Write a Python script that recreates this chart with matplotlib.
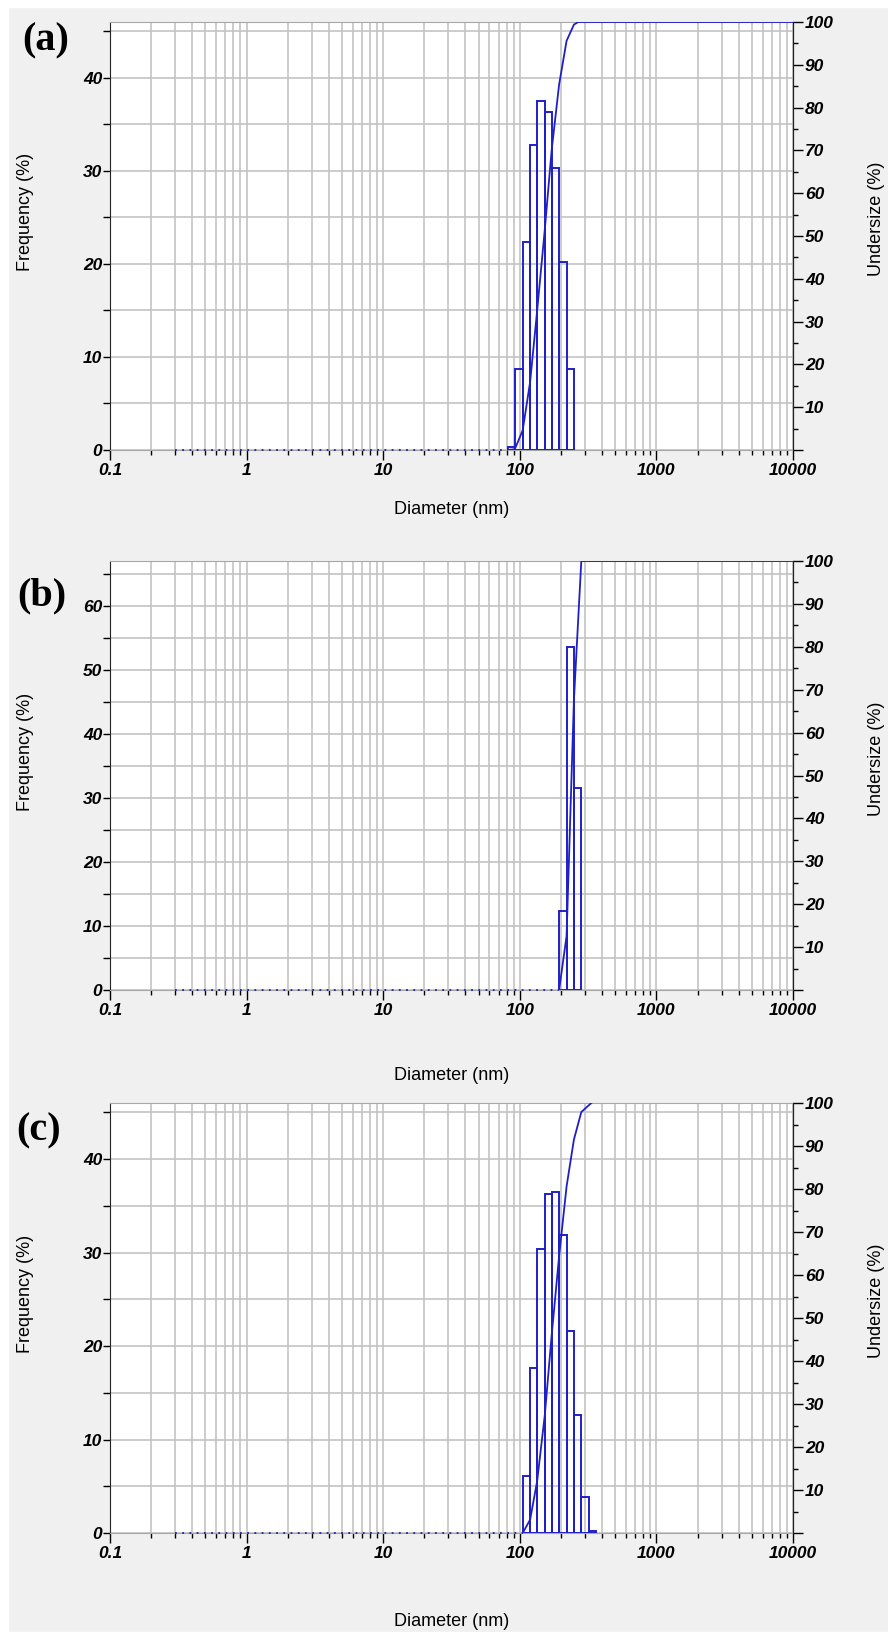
import matplotlib.pyplot as plt
import numpy as np
from matplotlib.ticker import FixedLocator, NullFormatter, FixedFormatter
from matplotlib.patches import Rectangle

# bin edges (nm) and frequencies (%)
edges_a = [82, 92, 105, 119, 134, 152.5, 171, 194, 220, 249]
freq_a = [0.35, 8.7, 22.4, 32.8, 37.5, 36.3, 30.3, 20.2, 8.7]
cum_x_a = [82, 92, 105, 119, 134, 152.5, 171, 194, 220, 249, 268, 10000]
cum_a = [0, 0.2, 4.6, 15.9, 32.6, 51.6, 70.0, 85.4, 95.6, 99.4, 100, 100]

edges_b = [194, 220, 249, 282]
freq_b = [12.3, 53.5, 31.6]
cum_x_b = [194, 220, 249, 282, 10000]
cum_b = [0, 12.6, 67.6, 100, 100]

edges_c = [105, 119, 134, 152.5, 171, 194, 220, 249, 282, 320, 362]
freq_c = [6.1, 17.7, 30.4, 36.3, 36.5, 31.9, 21.6, 12.6, 3.9, 0.2]
cum_x_c = [105, 119, 134, 152.5, 171, 194, 220, 249, 282, 334]
cum_c = [0, 3.1, 12.1, 27.5, 45.9, 64.4, 80.6, 91.5, 97.9, 100]

ymax = [46, 67, 46]
left_ticks = [[0, 10, 20, 30, 40], [0, 10, 20, 30, 40, 50, 60], [0, 10, 20, 30, 40]]
x_ticks = [0.1, 1, 10, 100, 1000, 10000]
x_labels = ['0.1', '1', '10', '100', '1000', '10000']
letters = ['(a)', '(b)', '(c)']

W, H = 888, 1636
blue = '#1f1fc8'
grid_c = '#c3c3c3'
tick_font = dict(family='Liberation Sans', weight='bold', style='italic', size=12.5)

fig = plt.figure(figsize=(W / 100, H / 100), dpi=100, facecolor='#f0f0f0')
# white border of the screenshot
fig.patches.append(Rectangle((0, 0), 8 / W, 1, transform=fig.transFigure, color='white', zorder=-1))
fig.patches.append(Rectangle((0, 1 - 7 / H), 1, 7 / H, transform=fig.transFigure, color='white', zorder=-1))
fig.patches.append(Rectangle((0, 0), 1, 4 / H, transform=fig.transFigure, color='white', zorder=-1))

# pixel boxes: (top, bottom) of each plot area
boxes = [(22, 450), (561, 990), (1103, 1533)]
xlab_y = [509, 1075, 1622]
letter_pos = [(46, 41), (42, 596), (39, 1131)]
ylab_off = [24, 24, 24]
data = [(edges_a, freq_a, cum_x_a, cum_a),
        (edges_b, freq_b, cum_x_b, cum_b),
        (edges_c, freq_c, cum_x_c, cum_c)]

minor_x = [m * 10.0 ** e for e in range(-1, 4) for m in range(2, 10)]

for i, (edges, freq, cx, cy) in enumerate(data):
    top, bot = boxes[i]
    ax = fig.add_axes([110 / W, 1 - bot / H, 683 / W, (bot - top) / H])
    ax.set_facecolor('white')
    ax.set_xscale('log')
    ax.set_xlim(0.1, 10000)
    ax.set_ylim(0, ymax[i])

    ax.xaxis.set_major_locator(FixedLocator(x_ticks))
    ax.xaxis.set_major_formatter(FixedFormatter(x_labels))
    ax.xaxis.set_minor_locator(FixedLocator(minor_x))
    ax.xaxis.set_minor_formatter(NullFormatter())
    ax.yaxis.set_major_locator(FixedLocator(left_ticks[i]))
    ax.yaxis.set_minor_locator(FixedLocator(np.arange(5, ymax[i], 10)))

    ax.grid(which='both', color=grid_c, lw=1.2)
    ax.set_axisbelow(True)

    # dotted zero line below the distribution
    ax.plot([0.3, edges[0]], [0, 0], color='#2020a0', lw=1.3, ls=(0, (1, 3)), clip_on=False, zorder=3)
    widths = np.diff(edges)
    ax.bar(edges[:-1], freq, width=widths, align='edge', fill=False,
           edgecolor=blue, lw=1.4, zorder=4)

    ax.tick_params(axis='x', which='major', direction='out', length=7.5, width=1, pad=2)
    ax.tick_params(axis='x', which='minor', direction='out', length=3.8, width=1)
    ax.tick_params(axis='y', which='both', direction='out', length=5, width=1, pad=0.5)
    for lab in ax.get_xticklabels() + ax.get_yticklabels():
        lab.set_fontproperties(tick_font)
    for s in ['top', 'bottom']:
        ax.spines[s].set_color('#a8a8a8')
    ax.spines['left'].set_color('#222222')

    ax2 = ax.twinx()
    ax2.set_ylim(0, 100)
    ax2.yaxis.set_major_locator(FixedLocator(np.arange(0, 101, 10)))
    ax2.yaxis.set_major_formatter(FixedFormatter([''] + [str(v) for v in range(10, 101, 10)]))
    ax2.yaxis.set_minor_locator(FixedLocator(np.arange(5, 100, 10)))
    ax2.tick_params(axis='y', which='major', direction='out', length=7.5, width=1, pad=1)
    ax2.tick_params(axis='y', which='minor', direction='out', length=3.8, width=1)
    for lab in ax2.get_yticklabels():
        lab.set_fontproperties(tick_font)
    for s in ['top', 'bottom', 'left']:
        ax2.spines[s].set_visible(False)
    ax2.spines['right'].set_color('#222222')
    ax2.plot(cx, cy, color=blue, lw=1.3, zorder=5)

    mid = (top + bot) / 2
    fig.text(452 / W, 1 - xlab_y[i] / H, 'Diameter (nm)', ha='center', va='center',
             family='Liberation Sans', size=13)
    fig.text(25 / W, 1 - (mid - ylab_off[i]) / H, 'Frequency (%)', rotation=90,
             ha='center', va='center', family='Liberation Sans', size=13)
    fig.text(876 / W, 1 - (mid - ylab_off[i] + 7) / H, 'Undersize (%)', rotation=90,
             ha='center', va='center', family='Liberation Sans', size=13)
    lx, ly = letter_pos[i]
    fig.text(lx / W, 1 - ly / H, letters[i], ha='center', va='center',
             family='Liberation Serif', weight='bold', size=29)

fig.savefig('out.png', dpi=100, facecolor=fig.get_facecolor())
